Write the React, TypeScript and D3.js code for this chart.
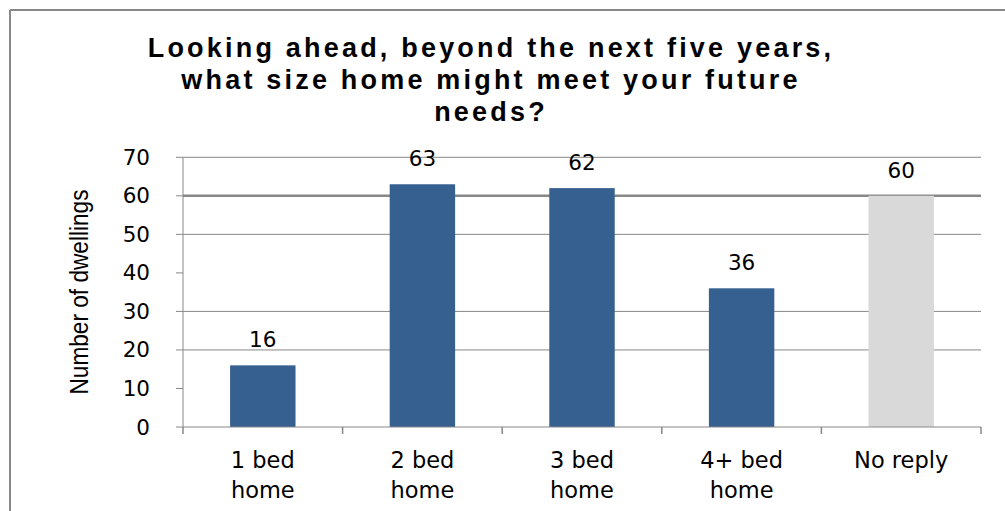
import React from "react";
import * as d3 from "d3";

const categories = [["1 bed", "home"], ["2 bed", "home"], ["3 bed", "home"], ["4+ bed", "home"], ["No reply"]];
const values = [16, 63, 62, 36, 60];
const barColors = ["#36608F", "#36608F", "#36608F", "#36608F", "#D9D9D9"];
const yTicks = [0, 10, 20, 30, 40, 50, 60, 70];
const gridTicks = [20, 30, 50, 60, 70];
const titleLines = ["Looking ahead, beyond the next five years,", "what size home might meet your future", "needs?"];
const yTitle = "Number of dwellings";

export default function App() {
  const W = 1005, H = 511;
  const left = 183, right = 981, top = 157.3, bottom = 427;
  const x = d3.scaleBand<number>().domain(d3.range(values.length)).range([left, right]).paddingInner(0.59).paddingOuter(0.295);
  const band = d3.scaleBand<number>().domain(d3.range(values.length)).range([left, right]);
  const y = d3.scaleLinear().domain([0, 70]).range([bottom, top]);
  const numFont = "'DejaVu Sans', sans-serif";
  return (
    <svg width={W} height={H} style={{ position: "absolute", left: 0, top: 0 }}>
      <rect x={0} y={0} width={W} height={H} fill="#fff" />
      <line x1={10} y1={10} x2={W} y2={10} stroke="#888" strokeWidth={2} />
      <line x1={10} y1={10} x2={10} y2={H} stroke="#888" strokeWidth={2} />
      {titleLines.map((t, i) => (
        <text key={i} x={491} y={57 + i * 32} textAnchor="middle" fontFamily="'Liberation Sans', sans-serif" fontWeight="bold" fontSize={27} letterSpacing={3.2} fill="#000">{t}</text>
      ))}
      {gridTicks.map((t) => (
        <line key={t} x1={left} x2={right} y1={y(t)} y2={y(t)} stroke="#888" strokeWidth={t === 60 ? 2.5 : 1} />
      ))}
      {values.map((v, i) => (
        <rect key={i} x={x(i)} y={y(v)} width={x.bandwidth()} height={bottom - y(v)} fill={barColors[i]} />
      ))}
      <line x1={left} x2={left} y1={top} y2={bottom} stroke="#888" strokeWidth={1} />
      <line x1={left} x2={right} y1={bottom} y2={bottom} stroke="#888" strokeWidth={1} />
      {yTicks.map((t) => (
        <g key={t}>
          <line x1={left - 7} x2={left} y1={y(t)} y2={y(t)} stroke="#888" strokeWidth={1} />
          <text x={150} y={y(t) + 7.5} textAnchor="end" fontFamily={numFont} fontSize={21.5} fill="#000">{t}</text>
        </g>
      ))}
      {d3.range(values.length + 1).map((i) => {
        const xx = i < values.length ? (band(i) as number) : right;
        return <line key={i} x1={xx} x2={xx} y1={bottom} y2={bottom + 7} stroke="#888" strokeWidth={1.5} />;
      })}
      {values.map((v, i) => (
        <text key={i} x={(x(i) as number) + x.bandwidth() / 2} y={y(v) - 18} textAnchor="middle" fontFamily={numFont} fontSize={21.5} fill="#000">{v}</text>
      ))}
      {categories.map((lines, i) => (
        <text key={i} x={(band(i) as number) + band.bandwidth() / 2} textAnchor="middle" fontFamily={numFont} fontSize={22.5} fill="#000">
          {lines.map((l, j) => (
            <tspan key={j} x={(band(i) as number) + band.bandwidth() / 2} y={468 + j * 30}>{l}</tspan>
          ))}
        </text>
      ))}
      <text transform={`translate(88,292) rotate(-90)`} textAnchor="middle" fontFamily="'Liberation Sans Narrow', 'Liberation Sans', sans-serif" fontSize={25} textLength={205} lengthAdjust="spacingAndGlyphs" fill="#000">{yTitle}</text>
    </svg>
  );
}
